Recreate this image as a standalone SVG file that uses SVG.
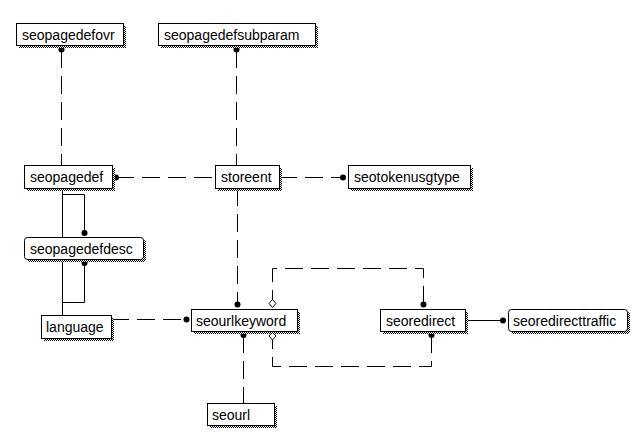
<svg xmlns="http://www.w3.org/2000/svg" width="633" height="437" viewBox="0 0 633 437">
<defs>
<pattern id="dither" width="2" height="2" patternUnits="userSpaceOnUse">
<rect width="2" height="2" fill="#fff"/>
<rect width="1" height="1" fill="#000"/>
<rect x="1" y="1" width="1" height="1" fill="#000"/>
</pattern>
</defs>
<style>
.sh{fill:url(#dither)}
.bx{fill:#fff;stroke:#000;stroke-width:1}
.t{font-family:"Liberation Sans",Arial,sans-serif;font-size:14px;fill:#000}
.d{fill:none;stroke:#000;stroke-width:1;stroke-dasharray:18,8}
.s{fill:none;stroke:#000;stroke-width:1}
.dot{fill:#000}
.dia{fill:#fff;stroke:#000;stroke-width:1}
</style>
<rect width="633" height="437" fill="#fff"/>
<g id="connectors">
<path class="d" d="M61.5,50 V165"/>
<path class="d" d="M236.5,50 V165"/>
<path class="d" d="M116,177.5 H215"/>
<path class="d" d="M279,177.5 H343"/>
<path class="d" d="M237.5,188 V305"/>
<path class="s" d="M62.5,188 V315"/>
<path class="s" d="M62.5,194.5 H84.5 V233"/>
<path class="s" d="M62.5,302.5 H84.5 V263"/>
<path class="d" d="M111,319.5 H186"/>
<path class="s" d="M465,320.5 H503"/>
<path class="d" d="M423.5,304 V268.5 H272.5 V300"/>
<path class="d" d="M431.5,335 V366.5 H272.5 V340"/>
<path class="d" d="M243.5,335 V403"/>
<circle class="dot" cx="61.5" cy="49.5" r="3"/>
<circle class="dot" cx="236.5" cy="49.5" r="3"/>
<circle class="dot" cx="116" cy="177.5" r="3"/>
<circle class="dot" cx="343" cy="177.5" r="3"/>
<circle class="dot" cx="237.5" cy="304.5" r="3"/>
<circle class="dot" cx="84.5" cy="233" r="3"/>
<circle class="dot" cx="84.5" cy="263" r="3"/>
<circle class="dot" cx="186.5" cy="319.5" r="3"/>
<circle class="dot" cx="503" cy="320.5" r="3"/>
<circle class="dot" cx="423.5" cy="304.5" r="3"/>
<circle class="dot" cx="431.5" cy="335" r="3"/>
<circle class="dot" cx="243.5" cy="335" r="3"/>
<polygon class="dia" points="272.5,299.5 276,303.5 272.5,307.5 269,303.5"/>
<polygon class="dia" points="272.5,332 276,336 272.5,340 269,336"/>
</g>
<g id="seopagedefovr">
<rect class="sh" x="19" y="26" width="107" height="22"/>
<rect class="bx" x="16.5" y="23.5" width="107" height="22"/>
<text class="t" x="22" y="39.5">seopagedefovr</text>
</g>
<g id="seopagedefsubparam">
<rect class="sh" x="161" y="26" width="157" height="22"/>
<rect class="bx" x="158.5" y="23.5" width="157" height="22"/>
<text class="t" x="164" y="39.5">seopagedefsubparam</text>
</g>
<g id="seopagedef">
<rect class="sh" x="27" y="168" width="88" height="23"/>
<rect class="bx" x="24.5" y="165.5" width="88" height="23"/>
<text class="t" x="30" y="182">seopagedef</text>
</g>
<g id="storeent">
<rect class="sh" x="218" y="168" width="64" height="23"/>
<rect class="bx" x="215.5" y="165.5" width="64" height="23"/>
<text class="t" x="221" y="182">storeent</text>
</g>
<g id="seotokenusgtype">
<rect class="sh" x="351" y="168" width="122" height="23"/>
<rect class="bx" x="348.5" y="165.5" width="122" height="23"/>
<text class="t" x="354" y="182">seotokenusgtype</text>
</g>
<g id="seopagedefdesc">
<rect class="sh" x="27" y="240" width="119" height="22" rx="3"/>
<rect class="bx" x="24.5" y="237.5" width="119" height="22" rx="3"/>
<text class="t" x="30" y="253.5">seopagedefdesc</text>
</g>
<g id="language">
<rect class="sh" x="44" y="318" width="70" height="23"/>
<rect class="bx" x="41.5" y="315.5" width="70" height="23"/>
<text class="t" x="46" y="332">language</text>
</g>
<g id="seourlkeyword">
<rect class="sh" x="194" y="312" width="106" height="22"/>
<rect class="bx" x="191.5" y="309.5" width="106" height="22"/>
<text class="t" x="196" y="325.5">seourlkeyword</text>
</g>
<g id="seoredirect">
<rect class="sh" x="383" y="312" width="85" height="22"/>
<rect class="bx" x="380.5" y="309.5" width="85" height="22"/>
<text class="t" x="386" y="325.5">seoredirect</text>
</g>
<g id="seoredirecttraffic">
<rect class="sh" x="511" y="312" width="119" height="22" rx="3"/>
<rect class="bx" x="508.5" y="309.5" width="119" height="22" rx="3"/>
<text class="t" x="513" y="325.5">seoredirecttraffic</text>
</g>
<g id="seourl">
<rect class="sh" x="210" y="406" width="67" height="22"/>
<rect class="bx" x="207.5" y="403.5" width="67" height="22"/>
<text class="t" x="212" y="419.5">seourl</text>
</g>
</svg>
